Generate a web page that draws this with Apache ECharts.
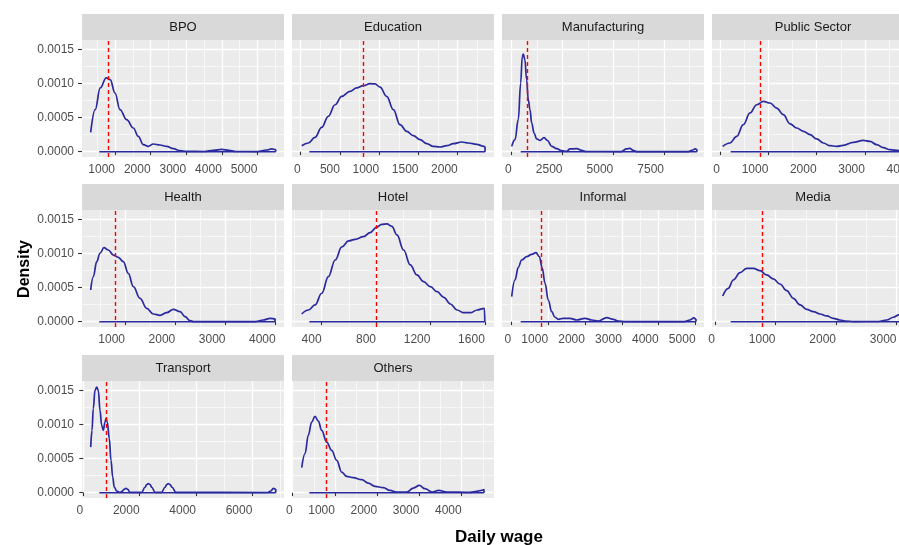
<!DOCTYPE html>
<html><head><meta charset="utf-8">
<script src="https://cdn.jsdelivr.net/npm/echarts@6/dist/echarts.min.js"></script>
<style>html,body{margin:0;padding:0;background:#fff}#c{width:899px;height:545px}</style>
</head><body><div id="c"></div>
<script>
// ---------- data ----------
const panelNames = ['BPO','Education','Manufacturing','Public Sector','Health','Hotel','Informal','Media','Transport','Others'];
const xLimits = [[73,5747],[-111,2462],[-478,9468],[-166,4016],[143,4165],[182.5,1667.5],[-249,5229],[-50,3289],[-46,7124],[-17,4765]];
const xBreaks = [[1000,2000,3000,4000,5000],[0,500,1000,1500,2000],[0,2500,5000,7500],[0,1000,2000,3000,4000],[1000,2000,3000,4000],[400,800,1200,1600],[0,1000,2000,3000,4000,5000],[0,1000,2000,3000],[0,2000,4000,6000],[0,1000,2000,3000,4000]];
const yLimits = [-0.0000782, 0.001642];
const yBreaks = [0, 0.0005, 0.001, 0.0015];
const yMinorBreaks = [0.00025, 0.00075, 0.00125];
const refWage = [812,797,788,842,814,800,809,788,806,788];
const baselines = [[558,5512],[110,2348],[443,9118],[220,3830],[487,3987],[310,1600],[258,5011],[259,3137],[568,6830],[393,4530]];

const bpoDensity = [[317,0.000284],[444,0.000618],[584,0.000937],[753,0.001084],[865,0.00106],[1000,0.000863],[1140,0.000618],[1328,0.00047],[1515,0.000348],[1655,0.000225],[1795,0.000103],[1935,0.000078],[2076,0.000113],[2264,0.0000985],[2451,0.000078],[2638,0.000044],[2826,0.000015],[3013,0.000005],[3500,0.000003],[3763,0.00002],[4000,0.000035],[4200,0.00002],[4390,0.000003],[5000,0.000002],[5260,0.000025],[5400,0.00004],[5512,0.00003],[5512,0]];
const educationDensity = [[13,0.000088],[97,0.000128],[182,0.00021],[267,0.000357],[351,0.00052],[437,0.00069],[522,0.000813],[628,0.000887],[713,0.000937],[797,0.00097],[883,0.001],[946,0.000996],[1010,0.00095],[1095,0.000813],[1180,0.000618],[1265,0.000397],[1350,0.0003],[1434,0.000235],[1520,0.000176],[1605,0.000118],[1689,0.000078],[1774,0.000069],[1860,0.000088],[1944,0.000118],[2050,0.000142],[2135,0.000128],[2242,0.000107],[2335,0.000078],[2348,0.00007],[2348,0]];
const manufacturingDensity = [[0,0.000078],[162,0.000176],[325,0.000475],[441,0.00101],[520,0.0014],[570,0.001436],[650,0.00135],[734,0.00106],[815,0.000765],[900,0.000618],[985,0.00042],[1100,0.000275],[1230,0.000187],[1395,0.000166],[1592,0.000206],[1756,0.000166],[1970,0.000078],[2216,0.000044],[2463,0.000015],[2700,0.000005],[2873,0.00004],[3200,0.000044],[3450,0.00002],[3650,0.000003],[5400,0.000002],[5650,0.00004],[5816,0.0000485],[5980,0.00002],[6150,0.000002],[8700,0.000002],[8870,0.00002],[9035,0.00004],[9118,0.00003],[9118,0]];
const publicSectorDensity = [[55,0.000078],[207,0.000128],[345,0.000225],[483,0.000397],[621,0.00057],[759,0.00069],[897,0.00074],[1035,0.000716],[1173,0.00064],[1310,0.000544],[1449,0.00041],[1587,0.000348],[1725,0.0003],[1863,0.00025],[2001,0.000187],[2139,0.000128],[2277,0.000088],[2415,0.000078],[2553,0.000093],[2760,0.000137],[2967,0.000166],[3105,0.000152],[3243,0.000103],[3380,0.000059],[3518,0.00003],[3705,0.000015],[3830,0.000008],[3830,0]];
const healthDensity = [[316,0.000466],[368,0.000662],[436,0.000882],[501,0.001006],[581,0.001088],[667,0.001054],[767,0.00098],[866,0.000946],[966,0.000882],[1065,0.00071],[1165,0.000515],[1298,0.000344],[1431,0.000197],[1564,0.000113],[1697,0.000094],[1830,0.000132],[1962,0.000182],[2095,0.000147],[2195,0.000074],[2295,0.000015],[2360,0.000002],[3600,0.000002],[3755,0.000025],[3888,0.00005],[3987,0.00004],[3987,0]];
const hotelDensity = [[254,0.000113],[303,0.000172],[352,0.000246],[401,0.000418],[450,0.000662],[500,0.000907],[549,0.0011],[598,0.001187],[647,0.00121],[708,0.00125],[757,0.00131],[806,0.00139],[843,0.001432],[880,0.001437],[917,0.0014],[954,0.001275],[1003,0.001054],[1052,0.000834],[1101,0.000687],[1150,0.000588],[1200,0.000515],[1249,0.000441],[1298,0.000358],[1347,0.00026],[1396,0.000172],[1445,0.000132],[1494,0.000132],[1544,0.000172],[1597,0.000197],[1600,0]];
const informalDensity = [[14,0.000368],[103,0.000613],[193,0.0008],[284,0.000907],[421,0.000956],[556,0.00099],[673,0.001015],[763,0.000956],[844,0.000785],[917,0.000565],[1006,0.000319],[1099,0.000147],[1188,0.000065],[1278,0.000035],[1413,0.00005],[1595,0.00005],[1776,0.000025],[2002,0.00005],[2183,0.000025],[2364,0.00001],[2590,0.00006],[2771,0.000035],[2906,0.00001],[3100,0.000002],[4700,0.000002],[4848,0.000025],[4957,0.000055],[5011,0.000035],[5011,0]];
const mediaDensity = [[127,0.000378],[219,0.000491],[302,0.000613],[413,0.00072],[524,0.000785],[633,0.000785],[743,0.00075],[854,0.000687],[963,0.000628],[1074,0.000554],[1185,0.000456],[1294,0.000344],[1405,0.000246],[1515,0.000182],[1625,0.000147],[1735,0.000113],[1846,0.000084],[1955,0.00005],[2066,0.000025],[2150,0.00001],[2300,0.000002],[2700,0.000003],[2838,0.000025],[2947,0.000065],[3041,0.0001],[3137,0.00012],[3137,0]];
const transportDensity = [[263,0.00067],[309,0.000916],[355,0.001235],[415,0.001504],[476,0.001553],[533,0.001504],[593,0.00121],[653,0.00099],[710,0.000916],[770,0.001038],[806,0.001088],[852,0.001038],[923,0.000794],[983,0.000475],[1044,0.00023],[1100,0.000082],[1186,0.000024],[1300,0.000005],[1380,0.00002],[1450,0.00005],[1516,0.000063],[1580,0.00005],[1650,0.000005],[2073,0.000005],[2190,0.00008],[2250,0.00012],[2309,0.000132],[2370,0.00012],[2430,0.00008],[2546,0.000005],[2780,0.000005],[2900,0.00008],[2960,0.00012],[3018,0.000132],[3080,0.00012],[3150,0.00008],[3290,0.000005],[6550,0.000003],[6652,0.000025],[6745,0.000063],[6830,0.00005],[6830,0]];
const othersDensity = [[213,0.000368],[291,0.000573],[369,0.000843],[449,0.001038],[528,0.001122],[606,0.001053],[686,0.000916],[804,0.000744],[923,0.000622],[1041,0.000475],[1160,0.000303],[1278,0.00024],[1434,0.00022],[1633,0.000191],[1789,0.000141],[1947,0.000093],[2144,0.000074],[2303,0.000034],[2460,0.00001],[2700,0.00001],[2855,0.000068],[2997,0.000107],[3131,0.000059],[3300,0.00001],[3455,0.000034],[3650,0.00001],[4200,0.000005],[4356,0.00002],[4475,0.000035],[4528,0.000044],[4530,0]];

const densities = [bpoDensity, educationDensity, manufacturingDensity, publicSectorDensity, healthDensity, hotelDensity, informalDensity, mediaDensity, transportDensity, othersDensity];

// ---------- layout ----------
const FONT = '"Liberation Sans", Arial, sans-serif';
const colLeft = [82, 292, 502, 712];
const stripTop = [14, 184, 355];
const stripH = 26, panelW = 202, panelH = 117;
const curveColor = '#2A2A9E';

function minorBreaks(br, lim) {
  const step = br[1] - br[0];
  const out = [];
  for (let v = br[0] - step / 2; v <= br[br.length - 1] + step / 2 + 1e-9; v += step) {
    if (v > lim[0] && v < lim[1]) out.push(v);
  }
  return out;
}

const grids = [], xAxes = [], yAxes = [], series = [], graphics = [];
panelNames.forEach((name, i) => {
  const col = i % 4, row = Math.floor(i / 4);
  const left = colLeft[col], top = stripTop[row] + stripH;
  grids.push({left: left, top: top, width: panelW, height: panelH, show: true,
    backgroundColor: '#EBEBEB', borderWidth: 0, containLabel: false, outerBoundsMode: 'none'});
  graphics.push({type: 'rect', shape: {x: left, y: stripTop[row], width: panelW, height: stripH},
    style: {fill: '#D9D9D9'}, silent: true});
  graphics.push({type: 'text', x: left + panelW / 2, y: stripTop[row] + stripH / 2 + 0.5, silent: true,
    style: {text: name, font: '13px ' + FONT, fill: '#1A1A1A', align: 'center', verticalAlign: 'middle',
      textAlign: 'center', textVerticalAlign: 'middle'}});
  const lim = xLimits[i];
  xAxes.push({type: 'value', gridIndex: i, min: lim[0], max: lim[1], position: 'bottom',
    axisLine: {show: false},
    axisTick: {show: true, length: 3.5, lineStyle: {color: '#333333', width: 1.1}, customValues: xBreaks[i]},
    axisLabel: {show: true, customValues: xBreaks[i], align: 'right', margin: 7, color: '#4D4D4D',
      fontFamily: FONT, fontSize: 12, formatter: v => String(v)},
    splitLine: {show: true, lineStyle: {color: '#FFFFFF', width: 1.3}},
    minorTick: {show: false}, minorSplitLine: {show: false}});
  xAxes.push({type: 'value', gridIndex: i, min: lim[0], max: lim[1], position: 'top',
    axisLine: {show: false}, axisLabel: {show: false},
    axisTick: {show: false, customValues: minorBreaks(xBreaks[i], lim)},
    splitLine: {show: true, lineStyle: {color: '#FFFFFF', width: 0.6}}});
  const firstCol = col === 0;
  yAxes.push({type: 'value', gridIndex: i, min: yLimits[0], max: yLimits[1],
    axisLine: {show: false},
    axisTick: {show: firstCol, length: 4, lineStyle: {color: '#333333', width: 1.1}, customValues: yBreaks},
    axisLabel: {show: firstCol, customValues: yBreaks, margin: 8, color: '#4D4D4D', fontFamily: FONT,
      fontSize: 12, formatter: v => v.toFixed(4)},
    splitLine: {show: true, lineStyle: {color: '#FFFFFF', width: 1.3}}});
  yAxes.push({type: 'value', gridIndex: i, min: yLimits[0], max: yLimits[1], position: 'right',
    axisLine: {show: false}, axisLabel: {show: false},
    axisTick: {show: false, customValues: yMinorBreaks},
    splitLine: {show: true, lineStyle: {color: '#FFFFFF', width: 0.6}}});

  series.push({type: 'line', xAxisIndex: 2 * i, yAxisIndex: 2 * i, data: densities[i],
    showSymbol: false, symbol: 'none', smooth: 0.4, smoothMonotone: 'x', silent: true,
    lineStyle: {color: curveColor, width: 1.7}, z: 3,
    markLine: {silent: true, symbol: ['none', 'none'], label: {show: false}, animation: false,
      lineStyle: {color: '#FF0000', type: [4, 3], width: 1.4},
      data: [{xAxis: refWage[i]}]}});
  series.push({type: 'line', xAxisIndex: 2 * i, yAxisIndex: 2 * i,
    data: [[baselines[i][0], 0], [baselines[i][1], 0]], showSymbol: false, symbol: 'none', silent: true,
    lineStyle: {color: curveColor, width: 1.6}, z: 3});
});

graphics.push({type: 'text', x: 25, y: 269, rotation: Math.PI / 2, silent: true,
  style: {text: 'Density', font: 'bold 16px ' + FONT, fill: '#000000', align: 'center', verticalAlign: 'middle',
    textAlign: 'center', textVerticalAlign: 'middle'}});
graphics.push({type: 'text', x: 499, y: 537, silent: true,
  style: {text: 'Daily wage', font: 'bold 17px ' + FONT, fill: '#000000', align: 'center', verticalAlign: 'middle',
    textAlign: 'center', textVerticalAlign: 'middle'}});

const chart = echarts.init(document.getElementById('c'), null, {renderer: 'canvas'});
chart.setOption({animation: false, backgroundColor: '#FFFFFF', grid: grids, xAxis: xAxes, yAxis: yAxes,
  series: series, graphic: graphics});
</script></body></html>
